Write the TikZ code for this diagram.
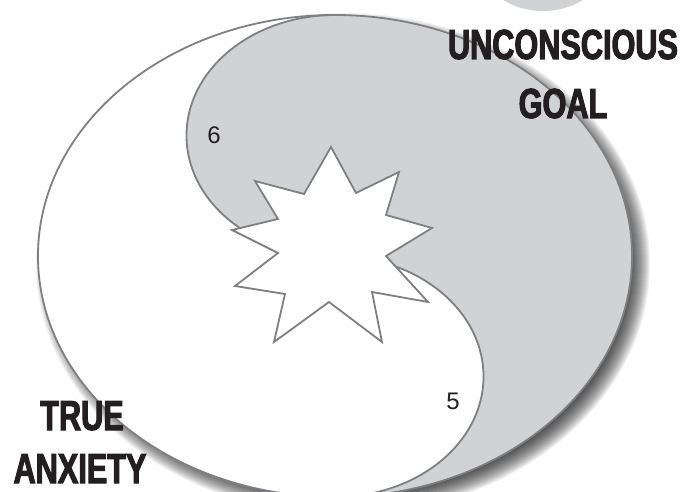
\documentclass[tikz,border=0pt]{standalone}
\usepackage{fontspec}
\setmainfont{Liberation Sans}
\newfontfamily\impactfont[FakeStretch=0.73,FakeBold=2.5]{Liberation Sans Bold}
\definecolor{yygray}{HTML}{D1D2D4}
\definecolor{yyline}{HTML}{7F8084}
\definecolor{yytext}{HTML}{231F20}
\tikzset{
  outline/.style={draw=yyline, line width=1.8pt},
  bigtitle/.style={font=\impactfont\fontsize{42}{48}\selectfont, text=yytext, inner sep=0pt, anchor=base},
  numlabel/.style={font=\fontsize{24}{28}\selectfont, text=yytext, inner sep=0pt},
}
\begin{document}
\begin{tikzpicture}[x=1pt,y=1pt]
\useasboundingbox (0,0) rectangle (686,491);
% soft drop shadow
\foreach \i in {0,...,22}
  \fill[black, opacity=0.05] (343,227) ellipse [x radius={285+\i}, y radius={229+\i}];
% outer ellipse (white half)
\fill[white] (335,235) ellipse [x radius=297, y radius=241];
% gray half of the yin-yang
\fill[yygray] (335,476)
  arc[start angle=90, end angle=-90, x radius=297, y radius=241]
  arc[start angle=-90, end angle=90, x radius=148.5, y radius=120.5]
  arc[start angle=-90, end angle=-270, x radius=148.5, y radius=120.5]
  -- cycle;
% S-curve and outline
\draw[outline] (335,-6)
  arc[start angle=-90, end angle=90, x radius=148.5, y radius=120.5]
  arc[start angle=-90, end angle=-270, x radius=148.5, y radius=120.5];
\draw[outline] (335,235) ellipse [x radius=297, y radius=241];
% star
\draw[outline, fill=white, line join=miter]
  (331,344) -- (356,298) -- (399,319) -- (386,276) -- (432,263) -- (386,235)
  -- (428,189) -- (372,199) -- (382,149) -- (329,189) -- (274,149) -- (285,197)
  -- (235,205) -- (278,238) -- (232,261) -- (278,272) -- (255,310) -- (304,297) -- cycle;
% partial circle at top
\fill[yygray] (543,558) circle [radius=78];
% texts
\node[bigtitle] (unc) at (563,432) {UNCONSCIOUS};
\node[bigtitle] (goal) at (563,373) {GOAL};
\node[bigtitle] (true) at (82,61) {TRUE};
\node[bigtitle] (anx) at (80,8) {ANXIETY};
\node[numlabel] (six) at (214,356) {6};
\node[numlabel] (five) at (453,90) {5};
\end{tikzpicture}
\end{document}
